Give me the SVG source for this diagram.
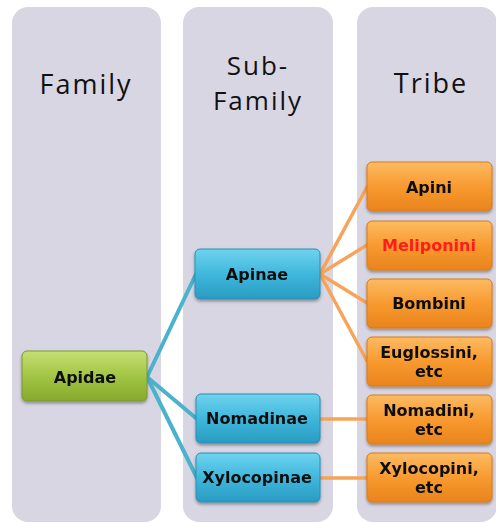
<svg xmlns="http://www.w3.org/2000/svg" width="496" height="523" viewBox="0 0 496 523">
<defs>
<linearGradient id="gGreen" x1="0" y1="0" x2="0" y2="1">
<stop offset="0" stop-color="#c5df73"/><stop offset="0.5" stop-color="#a3c545"/><stop offset="1" stop-color="#86a92c"/>
</linearGradient>
<linearGradient id="gBlue" x1="0" y1="0" x2="0" y2="1">
<stop offset="0" stop-color="#6fd3ef"/><stop offset="0.5" stop-color="#3fb7dc"/><stop offset="1" stop-color="#2a9bc2"/>
</linearGradient>
<linearGradient id="gOrange" x1="0" y1="0" x2="0" y2="1">
<stop offset="0" stop-color="#fcbb62"/><stop offset="0.5" stop-color="#f89a30"/><stop offset="1" stop-color="#e9841c"/>
</linearGradient>
<filter id="sh" x="-10%" y="-10%" width="120%" height="130%">
<feDropShadow dx="0" dy="2" stdDeviation="1.5" flood-color="#000" flood-opacity="0.35"/>
</filter>
<style>
.col{fill:#d9d6e4}
.hdr{font-family:"Open Sans","Liberation Sans",sans-serif;font-size:27px;fill:#111;text-anchor:middle;letter-spacing:2px}
.hdr2{font-family:"Open Sans","Liberation Sans",sans-serif;font-size:26px;fill:#111;text-anchor:middle;letter-spacing:2px}
.lbl{font-family:"DejaVu Sans",Verdana,sans-serif;font-weight:bold;font-size:16px;fill:#111;text-anchor:middle}
.green{fill:url(#gGreen);stroke:#7a9a2a;stroke-width:1}
.blue{fill:url(#gBlue);stroke:#2a8fb2;stroke-width:1}
.orange{fill:url(#gOrange);stroke:#d87a18;stroke-width:1}
.cb{stroke:#4bb2cc;stroke-width:4;fill:none;stroke-linecap:round}
.co{stroke:#f7a45a;stroke-width:3.5;fill:none;stroke-linecap:round}
</style>
</defs>
<rect width="496" height="523" fill="#ffffff"/>
<g id="columns">
<rect class="col" x="12" y="7" width="149" height="515" rx="16"/>
<rect class="col" x="183" y="7" width="150" height="515" rx="16"/>
<rect class="col" x="357" y="7" width="140" height="515" rx="16"/>
<text class="hdr" x="86" y="94">Family</text>
<text class="hdr2" x="258" y="75">Sub-</text>
<text class="hdr2" x="258" y="110">Family</text>
<text class="hdr" x="431" y="93">Tribe</text>
</g>
<g id="connectors">
<line class="cb" x1="147" y1="377" x2="196" y2="274"/>
<line class="cb" x1="147" y1="377" x2="197" y2="419"/>
<line class="cb" x1="147" y1="377" x2="197" y2="478"/>
<line class="co" x1="320" y1="274" x2="367" y2="187"/>
<line class="co" x1="320" y1="274" x2="367" y2="245"/>
<line class="co" x1="320" y1="274" x2="367" y2="303"/>
<line class="co" x1="320" y1="274" x2="367" y2="361"/>
<line class="co" x1="320" y1="419" x2="367" y2="419"/>
<line class="co" x1="320" y1="478" x2="367" y2="478"/>
</g>
<g id="apidae" filter="url(#sh)"><rect class="green" x="22" y="351" width="125" height="50" rx="5"/><text class="lbl" x="85" y="383">Apidae</text></g>
<g id="apinae" filter="url(#sh)"><rect class="blue" x="195" y="249" width="125" height="50" rx="5"/><text class="lbl" x="257" y="280">Apinae</text></g>
<g id="nomadinae" filter="url(#sh)"><rect class="blue" x="196" y="394" width="124" height="49" rx="5"/><text class="lbl" x="257" y="424">Nomadinae</text></g>
<g id="xylocopinae" filter="url(#sh)"><rect class="blue" x="196" y="453" width="124" height="49" rx="5"/><text class="lbl" x="257" y="483">Xylocopinae</text></g>
<g id="apini" filter="url(#sh)"><rect class="orange" x="367" y="162" width="125" height="49" rx="5"/><text class="lbl" x="429" y="193">Apini</text></g>
<g id="meliponini" filter="url(#sh)"><rect class="orange" x="367" y="221" width="125" height="49" rx="5"/><text class="lbl" x="429" y="251" style="fill:#ff1a1a">Meliponini</text></g>
<g id="bombini" filter="url(#sh)"><rect class="orange" x="367" y="279" width="125" height="49" rx="5"/><text class="lbl" x="429" y="309">Bombini</text></g>
<g id="euglossini" filter="url(#sh)"><rect class="orange" x="367" y="337" width="125" height="49" rx="5"/><text class="lbl" x="429" y="358">Euglossini,</text><text class="lbl" x="429" y="377">etc</text></g>
<g id="nomadini" filter="url(#sh)"><rect class="orange" x="367" y="395" width="125" height="49" rx="5"/><text class="lbl" x="429" y="416">Nomadini,</text><text class="lbl" x="429" y="435">etc</text></g>
<g id="xylocopini" filter="url(#sh)"><rect class="orange" x="367" y="453" width="125" height="49" rx="5"/><text class="lbl" x="429" y="474">Xylocopini,</text><text class="lbl" x="429" y="493">etc</text></g>
</svg>
